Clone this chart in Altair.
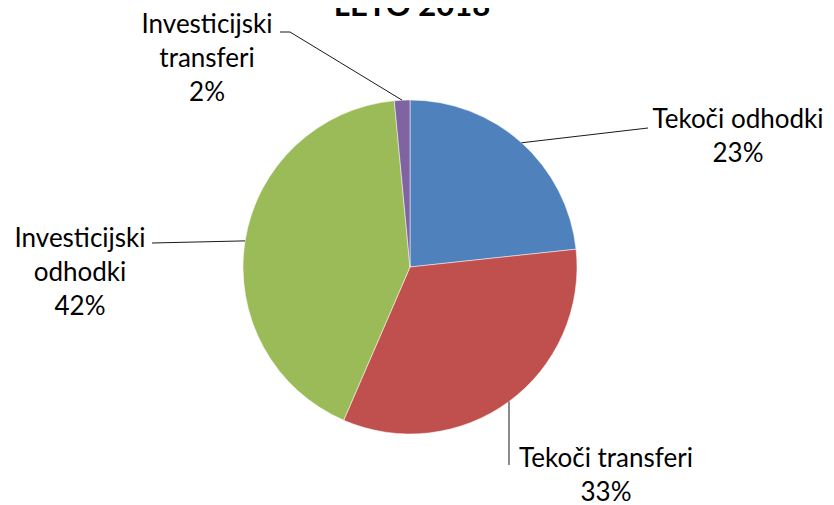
import math
import altair as alt
import pandas as pd

# ---- data ----
categories = ["Tekoči odhodki", "Tekoči transferi", "Investicijski odhodki", "Investicijski transferi"]
values = [23.3, 33.2, 42.0, 1.5]
colors = ["#4F81BD", "#C0504D", "#9BBB59", "#8064A2"]
title_text = "LETO 2018"

# ---- style / layout ----
W, H = 818, 497
CX, CY, R = 402, 259, 167
FONT = "Lato"
FS = 26
LH = 34
# label anchor (center x, first baseline y) and leader elbow points, per slice
label_pos = {
    "Tekoči odhodki": (730, 120),
    "Tekoči transferi": (598, 459),
    "Investicijski odhodki": (72, 239),
    "Investicijski transferi": (199, 25),
}
label_text = {
    "Tekoči odhodki": ["Tekoči odhodki"],
    "Tekoči transferi": ["Tekoči transferi"],
    "Investicijski odhodki": ["Investicijski", "odhodki"],
    "Investicijski transferi": ["Investicijski", "transferi"],
}
leader_pts = {
    "Tekoči odhodki": [(640, 120)],
    "Tekoči transferi": [(501, 457)],
    "Investicijski odhodki": [(144, 235)],
    "Investicijski transferi": [(282, 24), (272, 24)],
}

total = sum(values)
df = pd.DataFrame({"cat": categories, "value": values, "order": list(range(len(categories)))})

pie = alt.Chart(df).mark_arc(radius=R, stroke="white", strokeWidth=0.5).encode(
    theta=alt.Theta("value:Q", stack=True),
    order=alt.Order("order:Q"),
    color=alt.Color("cat:N", scale=alt.Scale(domain=categories, range=colors), legend=None),
    x=alt.value(CX),
    y=alt.value(CY),
)

# leader lines: start at slice mid-angle on the pie edge (derived from the data)
segs = []
cum = 0.0
texts = []
for c, v in zip(categories, values):
    mid = (cum + v / 2) / total
    cum += v
    a = 2 * math.pi * mid
    pts = [(CX + R * math.sin(a), CY - R * math.cos(a))] + leader_pts[c]
    for (x1, y1), (x2, y2) in zip(pts[:-1], pts[1:]):
        segs.append({"x": x1, "y": y1, "x2": x2, "y2": y2})
    pct = f"{int(v / total * 100 + 0.5)}%"
    lx, ly = label_pos[c]
    texts.append({"x": lx, "y": ly, "t": label_text[c] + [pct]})

seg_df = pd.DataFrame(segs)
txt_df = pd.DataFrame(texts)

leaders = alt.Chart(seg_df).mark_rule(color="#1a1a1a", strokeWidth=1).encode(
    x=alt.X("x:Q", scale=None), y=alt.Y("y:Q", scale=None),
    x2="x2:Q", y2="y2:Q",
)

labels = alt.Chart(txt_df).mark_text(
    font=FONT, fontSize=FS, lineHeight=LH, align="center", baseline="alphabetic", color="black"
).encode(
    x=alt.X("x:Q", scale=None), y=alt.Y("y:Q", scale=None), text="t:N",
)

title = alt.Chart(pd.DataFrame({"t": [title_text]})).mark_text(
    font=FONT, fontSize=31, fontWeight="bold", align="center", baseline="alphabetic", color="black"
).encode(x=alt.value(404), y=alt.value(8), text="t:N")

chart = alt.layer(pie, leaders, labels, title).properties(
    width=W, height=H, autosize=alt.AutoSizeParams(type="none"), padding=0
).configure_view(stroke=None)

chart.save("out.html", embed_options={"renderer": "svg", "actions": False})
